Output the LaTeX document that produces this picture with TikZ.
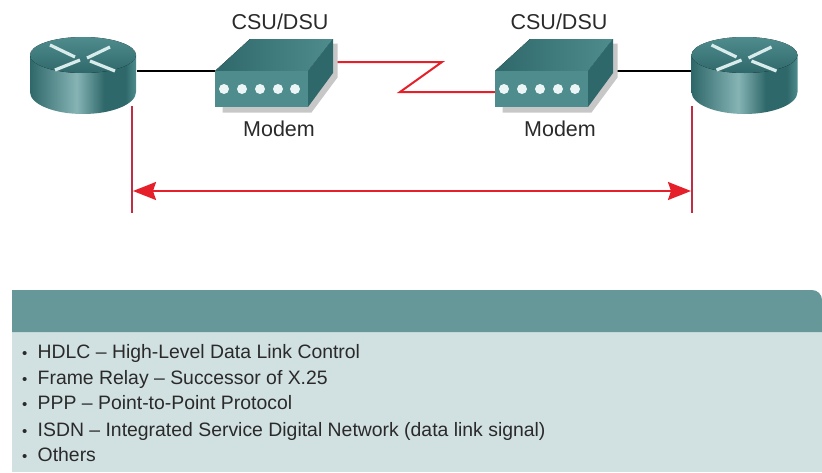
\documentclass[tikz,border=0pt]{standalone}
\usepackage{fontspec}
\setmainfont{Liberation Sans}
\usetikzlibrary{positioning, backgrounds, arrows.meta}
\definecolor{tealdark}{HTML}{2F686A}
\definecolor{tealmid}{HTML}{4F8C8E}
\definecolor{teallight}{HTML}{86B4B5}
\definecolor{panelhead}{HTML}{66989A}
\definecolor{panelbody}{HTML}{D1E0E1}
\definecolor{linkred}{HTML}{E5202B}
\definecolor{markred}{HTML}{BE2F45}
\definecolor{inktext}{HTML}{2A2A2A}
\pgfdeclarehorizontalshading{routerside}{100bp}{color(0bp)=(tealdark); color(25bp)=(tealdark); color(47bp)=(teallight); color(60bp)=(tealdark); color(70bp)=(tealdark); color(75bp)=(tealmid); color(100bp)=(tealmid)}
\tikzset{
	devbox/.style={inner sep=0pt, outer sep=0pt},
	devlabel/.style={inner sep=0pt, text=inktext, font=\fontsize{21.5}{24}\selectfont},
	listitem/.style={inner sep=0pt, anchor=base west, text=inktext, font=\fontsize{19.4}{22}\selectfont},
	wire/.style={line width=2pt, black},
	redlink/.style={line width=2pt, linkred},
	redmark/.style={line width=1.5pt, markred},
	router/.pic={
		\draw[draw=none, shading=routerside] (-53,-20) -- (-53,17) arc[start angle=180, end angle=0, x radius=53, y radius=22] -- (53,-20) -- cycle;
		\fill[top color=tealmid, bottom color=tealdark] (0,-20) ellipse (53 and 18);
		\foreach \xa/\ya/\xb/\yb in {-33/-30/-8/-18, 27/-28/4/-17, -28/-5/-3/-15, 7/-14/32/-4}
			\draw[line width=3.2pt, white!85!teal] (\xa,\ya) -- (\xb,\yb);
		\node(-box) [devbox, minimum width=107pt, minimum height=78pt] at (0,0) {};
	},
	modem/.pic={
		\fill[black!22] (-52,31) -- (-52,37) -- (37,37) -- (63,2) -- (63,-32) -- (58,-32) -- cycle;
		\fill[left color=tealdark, right color=tealmid] (-59.5,-4.5) -- (-24.5,-36.5) -- (58.5,-36.5) -- (33.5,-4.5) -- cycle;
		\fill[tealdark] (33.5,-4.5) -- (58.5,-36.5) -- (58.5,-2.5) -- (33.5,31.5) -- cycle;
		\fill[tealmid] (-59.5,-4.5) rectangle (33.5,31.5);
		\foreach \xa in {-50.5,-32.5,-14.5,3.5,20.5}
			\fill[white!92!teal] (\xa,13.5) circle (5);
		\node(-box) [devbox, minimum width=119pt, minimum height=73pt] at (0,0) {};
	}
}

\begin{document}
\begin{tikzpicture}[x=1pt, y=-1pt]
		\useasboundingbox (0,0) rectangle (822,472);
		
		\pic(rl) at (83,75) {router};
		\pic(rr) at (744.5,75) {router};
		\pic(ml) at (274.5,75.5) {modem};
		\pic(mr) at (554.5,75.5) {modem};
		
		\node(csul) [devlabel] at (280,22) {CSU/DSU};
		\node(csur) [devlabel] at (559,22) {CSU/DSU};
		\node(modl) [devlabel] at (279,129) {Modem};
		\node(modr) [devlabel] at (560,129) {Modem};
		
		\coordinate (zr) at (442,62);
		\coordinate (zl) at (400,92);
		\begin{scope}[on background layer]
		\draw[wire] ([yshift=4pt]rl-box.east) -- ([yshift=4.5pt]ml-box.west);
		\draw[wire] ([yshift=4.5pt]mr-box.east) -- ([yshift=4pt]rr-box.west);
		\draw[redlink, line join=miter] ([yshift=13.5pt]ml-box.east) -- (zr) -- (zl) -- ([yshift=-16.5pt]mr-box.west);
		\end{scope}
		
		\coordinate (lt) at (132,106);
		\coordinate (lb) at (132,213);
		\coordinate (rt) at (692,106);
		\coordinate (rb) at (692,213);
		\coordinate (al) at (133,191);
		\coordinate (ar) at (691,191);
		\draw[redmark] (lt) -- (lb);
		\draw[redmark] (rt) -- (rb);
		\draw[redlink, {Stealth[length=23pt, width=18pt, inset=3pt]}-{Stealth[length=23pt, width=18pt, inset=3pt]}] (al) -- (ar);
		
		\fill[panelbody] (12,332) rectangle (822,472);
		\fill[panelhead] (12,332) -- (12,290) -- (812,290) arc[start angle=-90, end angle=0, radius=10] -- (822,332) -- cycle;
		
		\node(hdlc) [listitem] at (22,358) {\makebox[15.5pt][l]{\fontsize{15}{15}\selectfont\textbullet}HDLC – High-Level Data Link Control};
		\node(frel) [listitem] at (22,384) {\makebox[15.5pt][l]{\fontsize{15}{15}\selectfont\textbullet}Frame Relay – Successor of X.25};
		\node(pppl) [listitem] at (22,409) {\makebox[15.5pt][l]{\fontsize{15}{15}\selectfont\textbullet}PPP – Point-to-Point Protocol};
		\node(isdn) [listitem] at (22,436) {\makebox[15.5pt][l]{\fontsize{15}{15}\selectfont\textbullet}ISDN – Integrated Service Digital Network (data link signal)};
		\node(othr) [listitem] at (22,461) {\makebox[15.5pt][l]{\fontsize{15}{15}\selectfont\textbullet}Others};
		\end{tikzpicture}
\end{document}
